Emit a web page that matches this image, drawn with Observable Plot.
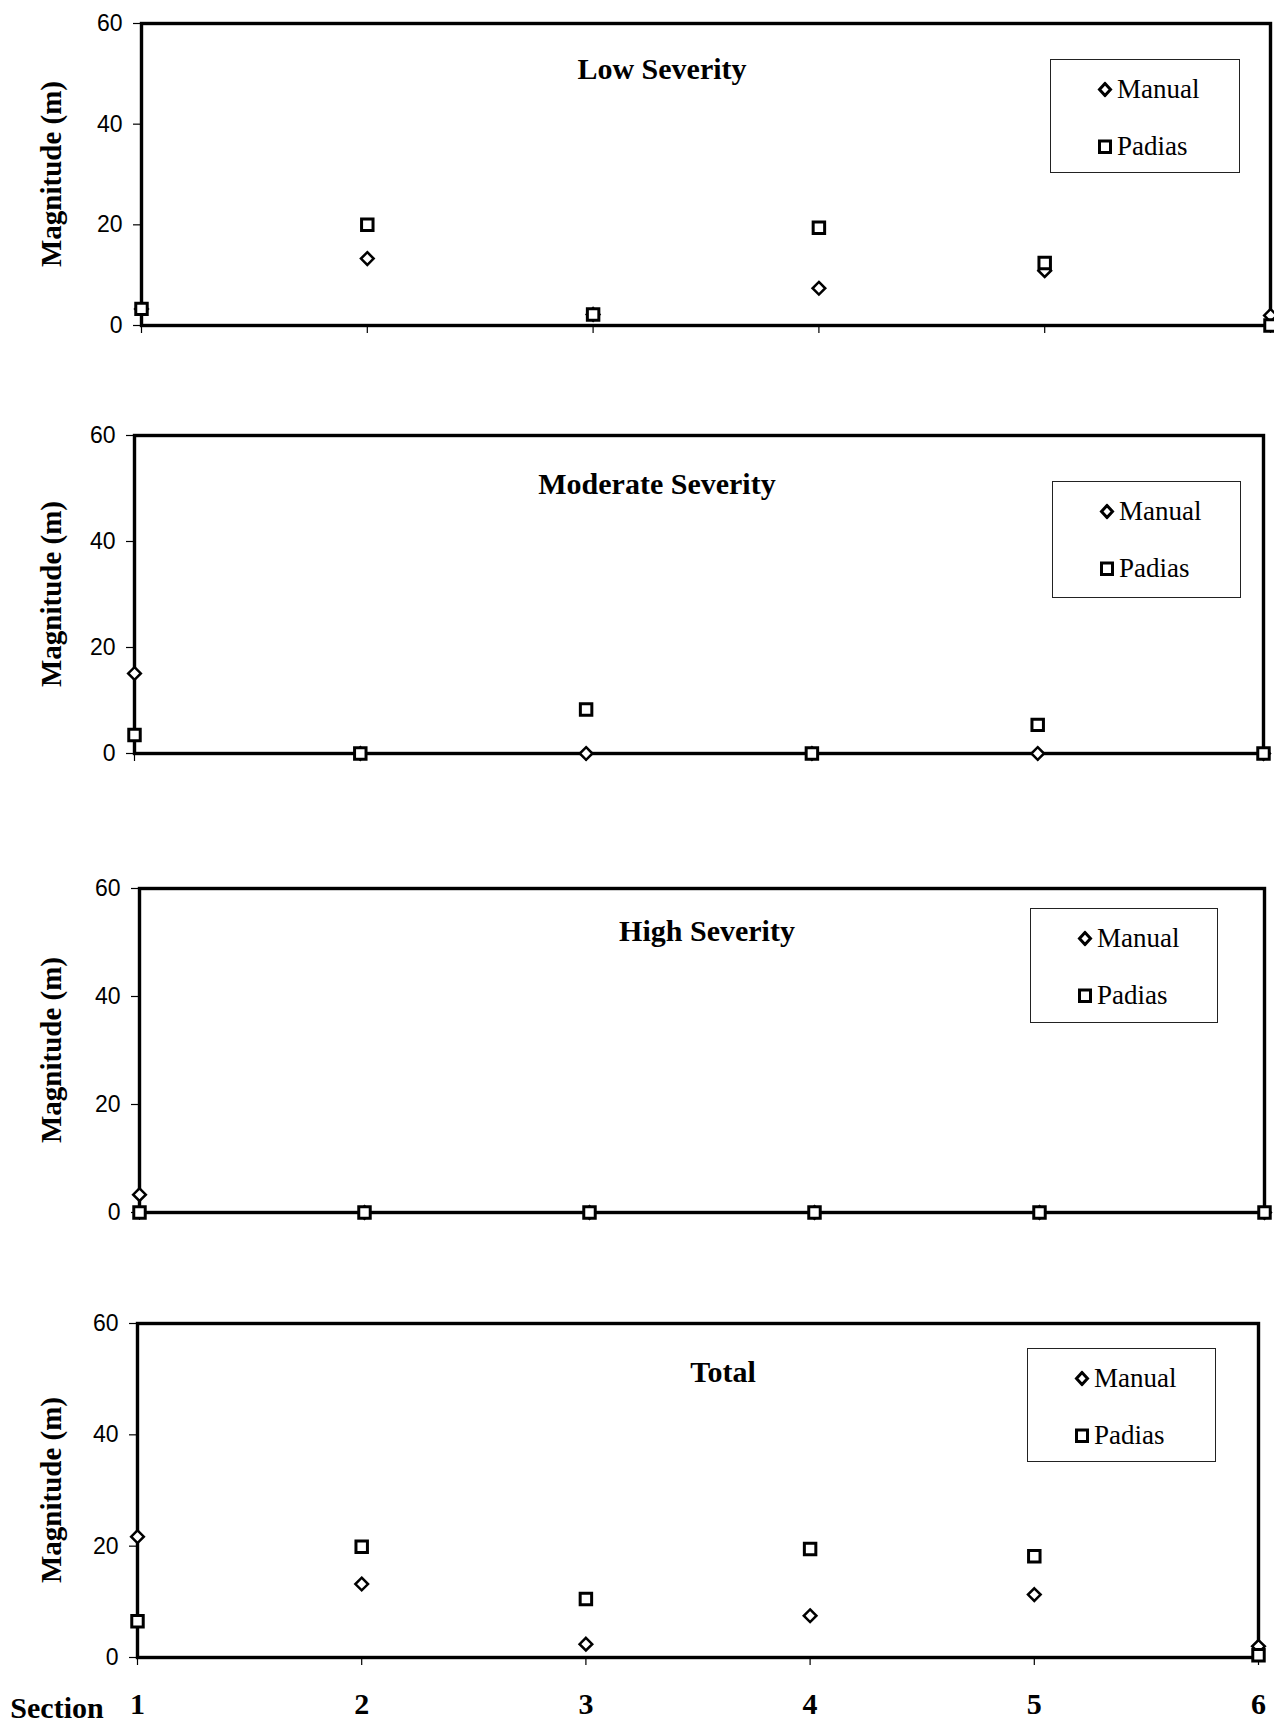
<!DOCTYPE html>
<html>
<head>
<meta charset="utf-8">
<script src="https://cdn.jsdelivr.net/npm/d3@7"></script>
<script src="https://cdn.jsdelivr.net/npm/@observablehq/plot@0.6"></script>
<style>
  body { margin: 0; background: #fff; }
  #wrap { position: relative; width: 1274px; height: 1723px; background: #fff; overflow: hidden; }
  .panel { position: absolute; left: 0; }
  .title { position: absolute; font-family: "Liberation Serif", "Times New Roman", serif; font-weight: bold; font-size: 30px; transform: translate(-50%, -50%); white-space: nowrap; color: #000; }
  .ylab { position: absolute; font-family: "Liberation Serif", "Times New Roman", serif; font-weight: bold; font-size: 29px; transform: translate(-50%, -50%) rotate(-90deg); white-space: nowrap; color: #000; }
  .legend { position: absolute; border: 1.5px solid #222; box-sizing: border-box; background: #fff; font-family: "Liberation Serif", "Times New Roman", serif; font-size: 27px; color: #000; }
  .legend .row { position: absolute; left: 46px; display: flex; align-items: center; transform: translateY(-50%); white-space: nowrap; }
  .legend .row svg { margin-right: 4px; }
  .section { position: absolute; font-family: "Liberation Serif", "Times New Roman", serif; font-weight: bold; font-size: 30px; transform: translate(-50%, -50%); color: #000; }
</style>
</head>
<body>
<div id="wrap"></div>
<script>
// ---- data ----
const sections = [1, 2, 3, 4, 5, 6];
const sectionLabels = ["1", "2", "3", "4", "5", "6"];
const yTicks = [0, 20, 40, 60];
const seriesNames = ["Manual", "Padias"];
const panelTitles = ["Low Severity", "Moderate Severity", "High Severity", "Total"];
const yLabel = "Magnitude (m)";
const xLabel = "Section";

const lowManual     = [3.3, 13.3, 2.2, 7.4, 10.9, 2.0];
const lowPadias     = [3.3, 20.0, 2.2, 19.4, 12.4, 0.0];
const moderateManual = [15.1, 0, 0, 0, 0, 0];
const moderatePadias = [3.5, 0, 8.3, 0, 5.4, 0];
const highManual    = [3.3, 0, 0, 0, 0, 0];
const highPadias    = [0, 0, 0, 0, 0, 0];
const totalManual   = [21.7, 13.2, 2.4, 7.5, 11.3, 2.0];
const totalPadias   = [6.5, 19.9, 10.5, 19.5, 18.2, 0.4];

const seriesByPanel = [
  [lowManual, lowPadias],
  [moderateManual, moderatePadias],
  [highManual, highPadias],
  [totalManual, totalPadias]
];

// ---- layout ----
const layouts = [
  {top: 0,    height: 360, mt: 23, mb: 35, ml: 141, mr: 4,  title: [662, 69],   legend: [1050, 59, 190, 114]},
  {top: 400,  height: 390, mt: 35, mb: 37, ml: 134, mr: 11, title: [657, 484],  legend: [1052, 481, 189, 117]},
  {top: 850,  height: 400, mt: 38, mb: 38, ml: 139, mr: 10, title: [707, 931],  legend: [1030, 908, 188, 115]},
  {top: 1290, height: 433, mt: 33, mb: 66, ml: 137, mr: 16, title: [723, 1372], legend: [1027, 1348, 189, 114]}
];

const wrap = document.getElementById("wrap");

function legendSymbol(name) {
  const ns = "http://www.w3.org/2000/svg";
  const svg = document.createElementNS(ns, "svg");
  svg.setAttribute("width", 16); svg.setAttribute("height", 16);
  if (name === "Manual") {
    const p = document.createElementNS(ns, "polygon");
    p.setAttribute("points", "8,2 13.5,8 8,14 2.5,8");
    p.setAttribute("fill", "#fff"); p.setAttribute("stroke", "#000"); p.setAttribute("stroke-width", "3");
    svg.appendChild(p);
  } else {
    const r = document.createElementNS(ns, "rect");
    r.setAttribute("x", 2.5); r.setAttribute("y", 2.5); r.setAttribute("width", 11); r.setAttribute("height", 11.5);
    r.setAttribute("fill", "#fff"); r.setAttribute("stroke", "#000"); r.setAttribute("stroke-width", "3");
    svg.appendChild(r);
  }
  return svg;
}

layouts.forEach((L, k) => {
  const [manual, padias] = seriesByPanel[k];
  const data = [];
  sections.forEach((s, i) => {
    data.push({section: s, value: manual[i], series: seriesNames[0]});
    data.push({section: s, value: padias[i], series: seriesNames[1]});
  });
  const isLast = k === layouts.length - 1;
  const marks = [
    Plot.axisY({ticks: yTicks, tickSize: 8, tickPadding: 11, label: null, fontSize: 23, fontFamily: "Liberation Sans, Arial, sans-serif", strokeWidth: 1.2}),
    Plot.axisX({ticks: sections, tickSize: 8, tickFormat: () => "", label: null, strokeWidth: 1.2}),
    Plot.frame({stroke: "#000", strokeWidth: 3.4}),
    Plot.dot(data.filter(d => d.series === "Manual"), {x: "section", y: "value", symbol: "diamond2", r: 5.7, stroke: "#000", strokeWidth: 2.5, fill: "#fff"}),
    Plot.dot(data.filter(d => d.series === "Padias"), {x: "section", y: "value", symbol: "square2", r: 7.3, stroke: "#000", strokeWidth: 3, fill: "#fff"})
  ];
  if (isLast) {
    marks.push(Plot.axisX({ticks: sections, tickSize: 0, tickPadding: 35, tickFormat: (d) => sectionLabels[sections.indexOf(d)], label: null, fontSize: 30, fontWeight: "bold", fontFamily: "Liberation Serif, Times New Roman, serif"}));
  }
  const chart = Plot.plot({
    width: 1274,
    height: L.height,
    marginTop: L.mt,
    marginBottom: L.mb,
    marginLeft: L.ml,
    marginRight: L.mr,
    x: {type: "linear", domain: [sections[0], sections[sections.length - 1]]},
    y: {domain: [yTicks[0], yTicks[yTicks.length - 1]]},
    style: {background: "transparent", color: "#000", overflow: "visible"},
    marks
  });
  chart.classList.add("panel");
  chart.style.top = L.top + "px";
  wrap.appendChild(chart);

  const t = document.createElement("div");
  t.className = "title";
  t.textContent = panelTitles[k];
  t.style.left = L.title[0] + "px"; t.style.top = L.title[1] + "px";
  wrap.appendChild(t);

  const yl = document.createElement("div");
  yl.className = "ylab";
  yl.textContent = yLabel;
  yl.style.left = "51px";
  yl.style.top = (L.top + L.mt + (L.height - L.mt - L.mb) / 2) + "px";
  wrap.appendChild(yl);

  const lg = document.createElement("div");
  lg.className = "legend";
  lg.style.left = L.legend[0] + "px"; lg.style.top = L.legend[1] + "px";
  lg.style.width = L.legend[2] + "px"; lg.style.height = L.legend[3] + "px";
  seriesNames.forEach((name, j) => {
    const row = document.createElement("div");
    row.className = "row";
    row.style.top = (j === 0 ? 29 : 86) + "px";
    row.appendChild(legendSymbol(name));
    const span = document.createElement("span");
    span.textContent = name;
    row.appendChild(span);
    lg.appendChild(row);
  });
  wrap.appendChild(lg);
});

const sec = document.createElement("div");
sec.className = "section";
sec.textContent = xLabel;
sec.style.left = "57px"; sec.style.top = "1708px";
wrap.appendChild(sec);
</script>
</body>
</html>
